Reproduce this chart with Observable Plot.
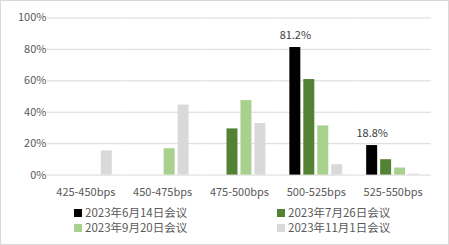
<!DOCTYPE html>
<html><head><meta charset="utf-8">
<script src="https://cdn.jsdelivr.net/npm/d3@7"></script>
<script src="https://cdn.jsdelivr.net/npm/@observablehq/plot@0.6"></script>
<style>
body{margin:0;background:#fff;}
#wrap{position:relative;width:449px;height:245px;box-sizing:border-box;border:1px solid #d9d9d9;font-family:"Noto Sans CJK SC","Noto Sans",sans-serif;overflow:hidden;}
#chart{position:absolute;left:-1px;top:-1px;}
.leg{position:absolute;font-size:11.5px;color:#595959;display:flex;align-items:center;white-space:nowrap;line-height:13px;height:13px;}
.sw{width:8px;height:8px;margin-right:3px;display:inline-block;}
</style></head>
<body><div id="wrap"><div id="chart"></div></div>
<script>
const categories = ["425-450bps","450-475bps","475-500bps","500-525bps","525-550bps"];
const series = ["2023年6月14日会议","2023年7月26日会议","2023年9月20日会议","2023年11月1日会议"];
const jun14 = [0, 0, 0, 81.2, 18.8];
const jul26 = [0, 0, 29.4, 60.8, 9.8];
const sep20 = [0, 16.8, 47.4, 31.3, 4.5];
const nov01 = [15.4, 44.6, 32.8, 6.6, 0.6];
const colors = ["#000000", "#548235", "#a9d18e", "#d9d9d9"];
const yTicks = [0, 20, 40, 60, 80, 100];
const labeled = [{cat: "500-525bps", v: 81.2}, {cat: "525-550bps", v: 18.8}];

const allValues = [jun14, jul26, sep20, nov01];
const data = [];
categories.forEach((c, i) => series.forEach((s, j) => data.push({cat: c, s, v: allValues[j][i]})));

const W = 449, H = 200, ml = 46, mr = 16;
const step = (W - ml - mr) / 5;
const half = step * 0.14;

const plot = Plot.plot({
  width: W, height: H,
  marginLeft: ml, marginRight: mr, marginTop: 17.5, marginBottom: 25,
  style: {fontFamily: '"Noto Sans CJK SC","Noto Sans",sans-serif', fontSize: "11px", color: "#595959", background: "transparent"},
  fx: {domain: categories, paddingInner: 0.28, paddingOuter: 0.14, label: null, axis: "bottom", tickSize: 0, tickPadding: 13},
  x: {domain: series, paddingInner: 0.21, paddingOuter: 0, axis: null},
  y: {domain: [0, 100], ticks: yTicks, tickFormat: d => d + "%", tickSize: 0, tickPadding: 12, label: null},
  color: {domain: series, range: colors},
  marks: [
    Plot.ruleY(yTicks, {stroke: "#d9d9d9", strokeWidth: 1, insetLeft: -half, insetRight: -half}),
    Plot.barY(data, {fx: "cat", x: "s", y: "v", fill: "s"}),
    Plot.text(labeled, {fx: "cat", x: () => series[0], y: "v", text: d => d.v.toFixed(1) + "%", dy: -12, fill: "#404040", fontSize: 11})
  ]
});
document.getElementById("chart").appendChild(plot);

const wrap = document.getElementById("wrap");
const pos = [[73, 205], [276, 205], [73, 220], [276, 220]];
series.forEach((s, i) => {
  const d = document.createElement("div");
  d.className = "leg";
  d.style.left = pos[i][0] + "px";
  d.style.top = pos[i][1] + "px";
  d.innerHTML = `<span class="sw" style="background:${colors[i]}"></span>${s}`;
  wrap.appendChild(d);
});
</script></body></html>
